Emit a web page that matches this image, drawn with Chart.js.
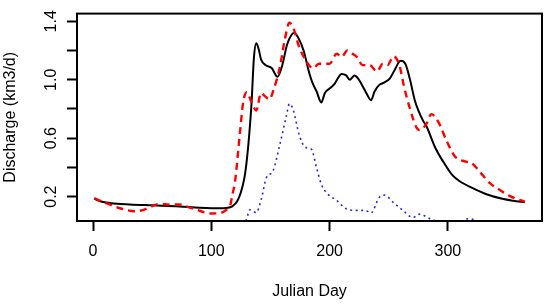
<!DOCTYPE html>
<html lang="en">
<head>
<meta charset="UTF-8">
<title>Discharge</title>
<script src="https://cdn.jsdelivr.net/npm/chart.js@4"></script>
<style>
  html, body { margin: 0; padding: 0; background: #fff; }
</style>
</head>
<body>
<canvas id="myChart" width="550" height="304"></canvas>
<script>

    // Observed discharge (black solid)
    let obsDays = [1, 6, 15, 31, 50, 73, 90, 110, 115, 118, 122, 125, 128, 130, 132, 134, 136, 138, 140, 142,
        146, 151, 156, 160, 164, 168, 170, 174, 178, 183, 186, 189, 193, 196, 200, 204, 207, 210, 214, 217,
        221, 224, 227, 231, 235, 238, 242, 246, 251, 255, 260, 264, 268, 272, 275, 279, 282, 289, 296, 304,
        310, 321, 332, 346, 355, 365];
    let obsQ = [0.185, 0.168, 0.155, 0.146, 0.14, 0.133, 0.124, 0.12, 0.125, 0.135, 0.17, 0.23, 0.33, 0.45, 0.62, 0.84, 1.15, 1.25, 1.21, 1.14,
        1.10, 1.08, 1.02, 1.10, 1.24, 1.31, 1.32, 1.28, 1.20, 1.04, 0.97, 0.92, 0.845, 0.91, 0.94, 0.97, 1.01, 1.04, 1.03, 1.00,
        1.03, 1.01, 0.97, 0.91, 0.86, 0.92, 0.965, 0.98, 1.01, 1.067, 1.13, 1.11, 1.0, 0.86, 0.79, 0.72, 0.68, 0.54, 0.44, 0.345,
        0.305, 0.258, 0.218, 0.185, 0.172, 0.162];

    // Simulated discharge (red dashed)
    let simDays = [1, 8, 14, 25, 35, 42, 48, 56, 65, 73, 80, 85, 95, 101, 107, 110, 114, 116, 118, 120,
        124, 127, 130, 134, 138, 142, 145, 149, 153, 158, 162, 166, 170, 174, 180, 186, 191, 200, 206, 210,
        215, 219, 223, 228, 234, 240, 245, 249, 254, 259, 263, 268, 273, 276, 282, 286, 292, 299, 306, 315,
        320, 327, 335, 344, 352, 365];
    let simQ = [0.19, 0.165, 0.146, 0.115, 0.10, 0.108, 0.128, 0.15, 0.145, 0.146, 0.13, 0.117, 0.09, 0.084, 0.088, 0.095, 0.12, 0.14, 0.22, 0.30,
        0.62, 0.85, 0.915, 0.845, 0.79, 0.91, 0.89, 0.866, 0.94, 1.09, 1.27, 1.39, 1.34, 1.23, 1.13, 1.078, 1.11, 1.11, 1.178, 1.156,
        1.2, 1.18, 1.156, 1.10, 1.10, 1.056, 1.11, 1.10, 1.16, 1.10, 0.95, 0.80, 0.68, 0.655, 0.70, 0.765, 0.71, 0.58, 0.475, 0.44,
        0.43, 0.37, 0.296, 0.245, 0.205, 0.165];

    // Third component (blue dotted)
    let meltDays = [127, 130, 132.5, 135, 138, 142, 146.6, 152, 157.8, 163.5, 166, 169, 174.7, 179, 183, 185, 189, 193, 197, 206,
        214, 223, 230, 235, 242, 246.6, 253.6, 262, 270.5, 276, 284.6, 289, 293, 310, 314, 318, 322, 326];
    let meltQ = [0.0, 0.05, 0.11, 0.10, 0.09, 0.175, 0.33, 0.374, 0.553, 0.754, 0.835, 0.8, 0.61, 0.542, 0.53, 0.52, 0.396, 0.285, 0.23, 0.173,
        0.117, 0.106, 0.106, 0.088, 0.195, 0.21, 0.162, 0.106, 0.057, 0.08, 0.05, 0.034, 0.0, 0.0, 0.044, 0.048, 0.04, 0.0];

    let xTicks = [0, 100, 200, 300];
    let yTicks = [0.2, 0.4, 0.6, 0.8, 1.0, 1.2, 1.4];
    let yTickLabels = ['0.2', '', '0.6', '', '1.0', '', '1.4'];

    let versPoints = (jours, valeurs) => jours.map((j, i) => ({x: j, y: valeurs[i]}));

    let police = {family: 'Liberation Sans, Arial, sans-serif', size: 16};

    // cadre autour de la zone du graphe
    let cadre = {
        id: 'cadre',
        afterDraw(chart) {
            let a = chart.chartArea;
            let ctx = chart.ctx;
            ctx.save();
            ctx.strokeStyle = '#000';
            ctx.lineWidth = 2;
            ctx.strokeRect(a.left, a.top, a.right - a.left, a.bottom - a.top);
            ctx.restore();
        }
    };

    let ctx = document.getElementById('myChart').getContext('2d');
    let chart = new Chart(ctx, {
        type: 'line',
        data: {
            datasets: [
                {
                    data: versPoints(meltDays, meltQ),
                    borderColor: '#2a2ad0',
                    borderWidth: 1.6,
                    borderDash: [2, 3.5],
                    cubicInterpolationMode: 'monotone'
                },
                {
                    data: versPoints(simDays, simQ),
                    borderColor: '#ff0000',
                    borderWidth: 2.4,
                    borderDash: [7, 5],
                    cubicInterpolationMode: 'monotone'
                },
                {
                    data: versPoints(obsDays, obsQ),
                    borderColor: '#000000',
                    borderWidth: 2,
                    cubicInterpolationMode: 'monotone'
                }
            ]
        },
        options: {
            responsive: false,
            animation: false,
            layout: {padding: {top: 9, right: 8, left: 0, bottom: 0}},
            plugins: {legend: {display: false}, tooltip: {enabled: false}},
            elements: {point: {radius: 0}},
            scales: {
                x: {
                    type: 'linear',
                    min: -13.56,
                    max: 379.56,
                    afterBuildTicks: s => { s.ticks = xTicks.map(v => ({value: v})); },
                    afterFit: s => { s.height = 83; },
                    border: {display: false},
                    grid: {drawOnChartArea: false, drawTicks: true, tickLength: 10, tickColor: '#000', tickWidth: 2},
                    ticks: {color: '#000', font: police, padding: 11, maxRotation: 0, autoSkip: false},
                    title: {display: true, text: 'Julian Day', color: '#000', font: police, padding: {top: 0, bottom: 3}}
                },
                y: {
                    min: 0.033,
                    max: 1.453,
                    afterBuildTicks: s => { s.ticks = yTicks.map(v => ({value: v})); },
                    afterFit: s => { s.width = 77; },
                    border: {display: false},
                    grid: {drawOnChartArea: false, drawTicks: true, tickLength: 10, tickColor: '#000', tickWidth: 2},
                    ticks: {
                        color: '#000', font: police, padding: 4, autoSkip: false,
                        minRotation: 90, maxRotation: 90, crossAlign: 'center',
                        callback: (val, idx) => yTickLabels[idx]
                    },
                    title: {display: true, text: 'Discharge (km3/d)', color: '#000', font: police, padding: {top: 1, bottom: 0}}
                }
            }
        },
        plugins: [cadre]
    });

</script>
</body>
</html>
